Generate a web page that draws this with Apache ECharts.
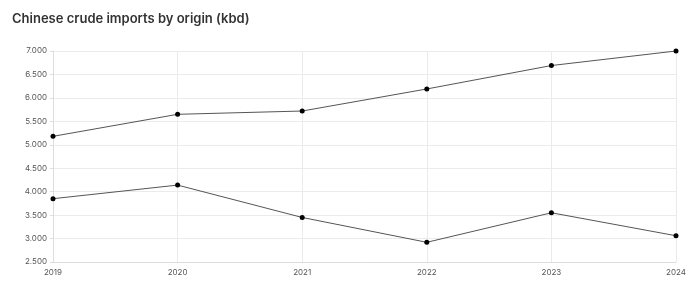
<!DOCTYPE html>
<html><head><meta charset="utf-8">
<script src="https://cdn.jsdelivr.net/npm/echarts@6/dist/echarts.min.js"></script>
<style>html,body{margin:0;padding:0;background:#fff}#c{width:700px;height:291px}</style>
</head><body><div id="c"></div>
<script>
const years = ['2019','2020','2021','2022','2023','2024'];
const seriesUpper = [5180, 5650, 5720, 6190, 6690, 7000];
const seriesLower = [3850, 4140, 3450, 2920, 3550, 3060];
const yMin = 2500, yMax = 7000, yStep = 500;

const chart = echarts.init(document.getElementById('c'));
const fmt = v => { const s = String(v); return s.length > 3 ? s.slice(0, s.length-3) + '.' + s.slice(-3) : s; };
const lineStyle = {color:'#555', width:1};
const itemStyle = {color:'#000'};
chart.setOption({
  animation:false,
  title:{text:'Chinese crude imports by origin (kbd)', left:12, top:13, padding:0,
    textStyle:{fontFamily:'Inter', fontSize:13, fontWeight:600, color:'#333'}},
  grid:{left:53, right:24, top:51, bottom:29},
  xAxis:{type:'category', data:years, boundaryGap:false,
    axisLine:{show:true, lineStyle:{color:'#ddd'}}, axisTick:{show:false},
    axisLabel:{fontFamily:'Inter', fontSize:8, color:'#555', margin:7},
    splitLine:{show:true, lineStyle:{color:'#ebebeb'}}},
  yAxis:{type:'value', min:yMin, max:yMax, interval:yStep,
    axisLine:{show:true, lineStyle:{color:'#ddd'}}, axisTick:{show:true, length:3, lineStyle:{color:'#ddd'}},
    axisLabel:{fontFamily:'Inter', fontSize:8, color:'#555', margin:6, formatter:fmt},
    splitLine:{lineStyle:{color:'#ebebeb'}}},
  series:[
    {type:'line', data:seriesUpper, symbol:'circle', symbolSize:5, lineStyle, itemStyle},
    {type:'line', data:seriesLower, symbol:'circle', symbolSize:5, lineStyle, itemStyle}
  ]
});
</script></body></html>
